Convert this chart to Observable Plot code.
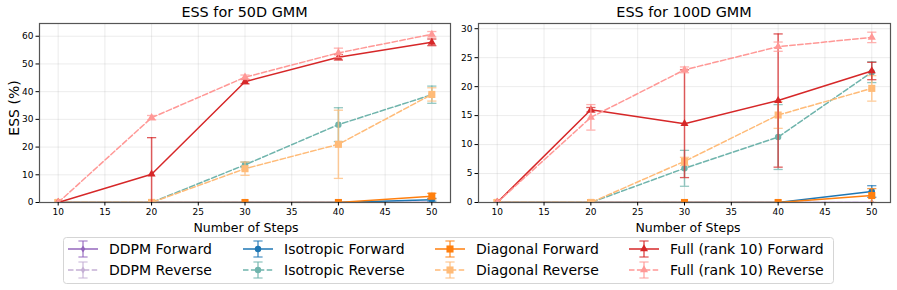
<!DOCTYPE html>
<html>
<head>
<meta charset="utf-8">
<script src="https://cdn.jsdelivr.net/npm/d3@7"></script>
<script src="https://cdn.jsdelivr.net/npm/@observablehq/plot@0.6"></script>
<style>
  html, body { margin: 0; padding: 0; background: #fff; }
  body { width: 897px; height: 290px; overflow: hidden; font-family: "DejaVu Sans", sans-serif; }
  #root { position: relative; width: 897px; height: 290px; }
  .abs { position: absolute; white-space: nowrap; color: #000; }
  .title { font-size: 14.4px; transform: translate(-50%, -50%); }
  .xlab { font-size: 12.5px; transform: translate(-50%, -50%); }
  .ylab { font-size: 14px; transform: translate(-50%, -50%) rotate(-90deg); }
</style>
</head>
<body>
<div id="root"></div>
<script>
// ---------------- data ----------------
const steps = [10, 20, 30, 40, 50];
const xTicks = [10, 15, 20, 25, 30, 35, 40, 45, 50];
const yTicks50 = [0, 10, 20, 30, 40, 50, 60];
const yTicks100 = [0, 5, 10, 15, 20, 25, 30];

const seriesNames = ["DDPM Forward", "DDPM Reverse", "Isotropic Forward", "Isotropic Reverse",
                     "Diagonal Forward", "Diagonal Reverse", "Full (rank 10) Forward", "Full (rank 10) Reverse"];
const seriesColors = ["#9467bd", "#c5b0d5", "#1f77b4", "#6fb4ac", "#ff7f0e", "#ffbb78", "#d62728", "#ff9896"];

// ESS for 50D GMM (mean, error)
const g50_ddpmF = [0, 0, 0, 0, 0],        g50_ddpmF_err = [0, 0, 0, 0, 0];
const g50_ddpmR = [0, 0, 0, 0, 0],        g50_ddpmR_err = [0, 0, 0, 0, 0];
const g50_isoF  = [0, 0, 0, 0, 1.0],      g50_isoF_err  = [0, 0, 0, 0, 0.5];
const g50_isoR  = [0, 0, 13.6, 28.1, 38.9], g50_isoR_err = [0, 0, 1.0, 6.1, 3.1];
const g50_diagF = [0, 0, 0, 0, 2.3],      g50_diagF_err = [0, 0, 0, 0, 1.0];
const g50_diagR = [0, 0, 12.2, 21.0, 39.0], g50_diagR_err = [0, 0, 2.4, 12.3, 2.4];
const g50_fullF = [0, 10.2, 43.6, 52.4, 57.8], g50_fullF_err = [0, 13.2, 0.8, 1.0, 1.2];
const g50_fullR = [0, 30.6, 45.2, 54.0, 60.7], g50_fullR_err = [0, 0.8, 0.8, 1.7, 1.0];

// ESS for 100D GMM (mean, error)
const g100_ddpmF = [0, 0, 0, 0, 0],       g100_ddpmF_err = [0, 0, 0, 0, 0];
const g100_ddpmR = [0, 0, 0, 0, 0],       g100_ddpmR_err = [0, 0, 0, 0, 0];
const g100_isoF  = [0, 0, 0, 0, 1.9],     g100_isoF_err  = [0, 0, 0, 0, 1.0];
const g100_isoR  = [0, 0, 5.9, 11.3, 22.5], g100_isoR_err = [0, 0, 3.1, 5.6, 1.8];
const g100_diagF = [0, 0, 0, 0, 1.2],     g100_diagF_err = [0, 0, 0, 0, 1.2];
const g100_diagR = [0, 0, 7.1, 15.1, 19.7], g100_diagR_err = [0, 0, 0.7, 2.3, 2.2];
const g100_fullF = [0, 16.0, 13.6, 17.6, 22.7], g100_fullF_err = [0, 0.4, 9.3, 11.5, 1.5];
const g100_fullR = [0, 14.7, 22.9, 26.9, 28.5], g100_fullR_err = [0, 2.2, 0.5, 0.8, 0.9];

// ---------------- styles ----------------
const capSym = { draw(ctx, size) { const r = Math.sqrt(size / Math.PI); ctx.moveTo(-r, 0); ctx.lineTo(r, 0); } };
const thinDiamond = { draw(ctx, size) { const r = Math.sqrt(size / Math.PI); ctx.moveTo(0, -r); ctx.lineTo(r * 0.65, 0); ctx.lineTo(0, r); ctx.lineTo(-r * 0.65, 0); ctx.closePath(); } };
const symbols = [thinDiamond, thinDiamond, "circle", "circle", "square", "square", "triangle", "triangle"];
const symR = [3.6, 3.6, 3.2, 3.2, 4.0, 4.0, 3.0, 3.0];
const dashed = [false, true, false, true, false, true, false, true];

function buildSeries(vals, errs) {
  return seriesNames.map((name, i) => ({
    name, color: seriesColors[i], symbol: symbols[i], r: symR[i], dash: dashed[i],
    rows: steps.map((x, j) => ({ x, y: vals[i][j], e: errs[i][j] }))
  }));
}

const s50 = buildSeries(
  [g50_ddpmF, g50_ddpmR, g50_isoF, g50_isoR, g50_diagF, g50_diagR, g50_fullF, g50_fullR],
  [g50_ddpmF_err, g50_ddpmR_err, g50_isoF_err, g50_isoR_err, g50_diagF_err, g50_diagR_err, g50_fullF_err, g50_fullR_err]);
const s100 = buildSeries(
  [g100_ddpmF, g100_ddpmR, g100_isoF, g100_isoR, g100_diagF, g100_diagR, g100_fullF, g100_fullR],
  [g100_ddpmF_err, g100_ddpmR_err, g100_isoF_err, g100_isoR_err, g100_diagF_err, g100_diagR_err, g100_fullF_err, g100_fullR_err]);

function chart(series, yDomain, yTicks, opts) {
  const marks = [
    Plot.gridX(xTicks, { stroke: "#b0b0b0", strokeOpacity: 0.3, strokeWidth: 0.8 }),
    Plot.gridY(yTicks, { stroke: "#b0b0b0", strokeOpacity: 0.3, strokeWidth: 0.8 })
  ];
  for (const s of series) {
    const eb = s.rows.filter(d => d.e > 0);
    marks.push(Plot.line(s.rows, { x: "x", y: "y", stroke: s.color, strokeWidth: 1.5,
      strokeDasharray: s.dash ? "5.5,2.4" : null, clip: true }));
    marks.push(Plot.ruleX(eb, { x: "x", y1: d => d.y - d.e, y2: d => d.y + d.e, stroke: s.color,
      strokeWidth: 1.5, strokeOpacity: 0.75, clip: true }));
    marks.push(Plot.dot(eb, { x: "x", y: d => d.y + d.e, symbol: capSym, r: 4.6, fill: "none",
      stroke: s.color, strokeWidth: 1.3, strokeOpacity: 0.75, clip: true }));
    marks.push(Plot.dot(eb, { x: "x", y: d => d.y - d.e, symbol: capSym, r: 4.6, fill: "none",
      stroke: s.color, strokeWidth: 1.3, strokeOpacity: 0.75, clip: true }));
    marks.push(Plot.dot(s.rows, { x: "x", y: "y", symbol: s.symbol, r: s.r, fill: s.color,
      stroke: "none", clip: true }));
  }
  marks.push(Plot.frame({ stroke: "#555", strokeWidth: 1.2 }));
  marks.push(Plot.axisX({ ticks: xTicks, tickSize: 3.5, tickPadding: 2.5, fontSize: 9, label: null }));
  marks.push(Plot.axisY({ ticks: yTicks, tickSize: 3.5, tickPadding: 2.5, fontSize: 9, label: null }));
  return Plot.plot({
    width: opts.width, height: 216,
    marginLeft: opts.ml, marginRight: opts.mr, marginTop: 23, marginBottom: 14,
    style: { fontFamily: "DejaVu Sans", fontSize: "9px", color: "#000", background: "transparent", overflow: "visible" },
    x: { domain: [8, 52] },
    y: { domain: yDomain },
    marks
  });
}

const root = document.getElementById("root");

const left = chart(s50, [0, 64.6], yTicks50, { width: 455, ml: 39, mr: 5 });
left.style.position = "absolute"; left.style.left = "0px"; left.style.top = "0px";
root.appendChild(left);

const right = chart(s100, [0, 30.9], yTicks100, { width: 457, ml: 38, mr: 7 });
right.style.position = "absolute"; right.style.left = "440px"; right.style.top = "0px";
root.appendChild(right);

function addText(cls, txt, x, y) {
  const d = document.createElement("div");
  d.className = "abs " + cls;
  d.textContent = txt;
  d.style.left = x + "px"; d.style.top = y + "px";
  root.appendChild(d);
}
addText("title", "ESS for 50D GMM", 244.5, 12);
addText("title", "ESS for 100D GMM", 684, 12);
addText("xlab", "Number of Steps", 246, 227);
addText("xlab", "Number of Steps", 688, 227);
addText("ylab", "ESS (%)", 14, 108);

// ---------------- legend ----------------
const legW = 771, legH = 47;
const leg = d3.create("svg").attr("width", legW).attr("height", legH)
  .style("position", "absolute").style("left", "63px").style("top", "237px").style("overflow", "visible");
leg.append("rect").attr("x", 0.5).attr("y", 0.5).attr("width", legW - 1).attr("height", legH - 1)
  .attr("rx", 3).attr("fill", "#fff").attr("fill-opacity", 0.8).attr("stroke", "#d5d5d5");
const colX = [5, 180, 372, 566];
const rowY = [12, 33];
seriesNames.forEach((name, i) => {
  const gx = colX[Math.floor(i / 2)], cy = rowY[i % 2];
  const c = seriesColors[i];
  const g = leg.append("g");
  g.append("line").attr("x1", gx).attr("x2", gx + 30).attr("y1", cy).attr("y2", cy)
    .attr("stroke", c).attr("stroke-width", 1.5).attr("stroke-dasharray", dashed[i] ? "5.5,2.4" : null);
  const cx = gx + 15;
  g.append("line").attr("x1", cx).attr("x2", cx).attr("y1", cy - 8).attr("y2", cy + 8)
    .attr("stroke", c).attr("stroke-width", 1.5).attr("stroke-opacity", 0.75);
  [cy - 8, cy + 8].forEach(yy => g.append("line").attr("x1", cx - 4.6).attr("x2", cx + 4.6)
    .attr("y1", yy).attr("y2", yy).attr("stroke", c).attr("stroke-width", 1.3).attr("stroke-opacity", 0.75));
  const r = symR[i];
  const symType = symbols[i] === "circle" ? d3.symbolCircle : symbols[i] === "square" ? d3.symbolSquare
    : symbols[i] === "triangle" ? d3.symbolTriangle : thinDiamond;
  g.append("path").attr("d", d3.symbol(symType, Math.PI * r * r)()).attr("transform", `translate(${cx},${cy})`)
    .attr("fill", c);
  g.append("text").attr("x", gx + 41).attr("y", cy).attr("dy", "0.36em")
    .attr("font-family", "DejaVu Sans").attr("font-size", 14).attr("fill", "#000").text(name);
});
root.appendChild(leg.node());
</script>
</body>
</html>
